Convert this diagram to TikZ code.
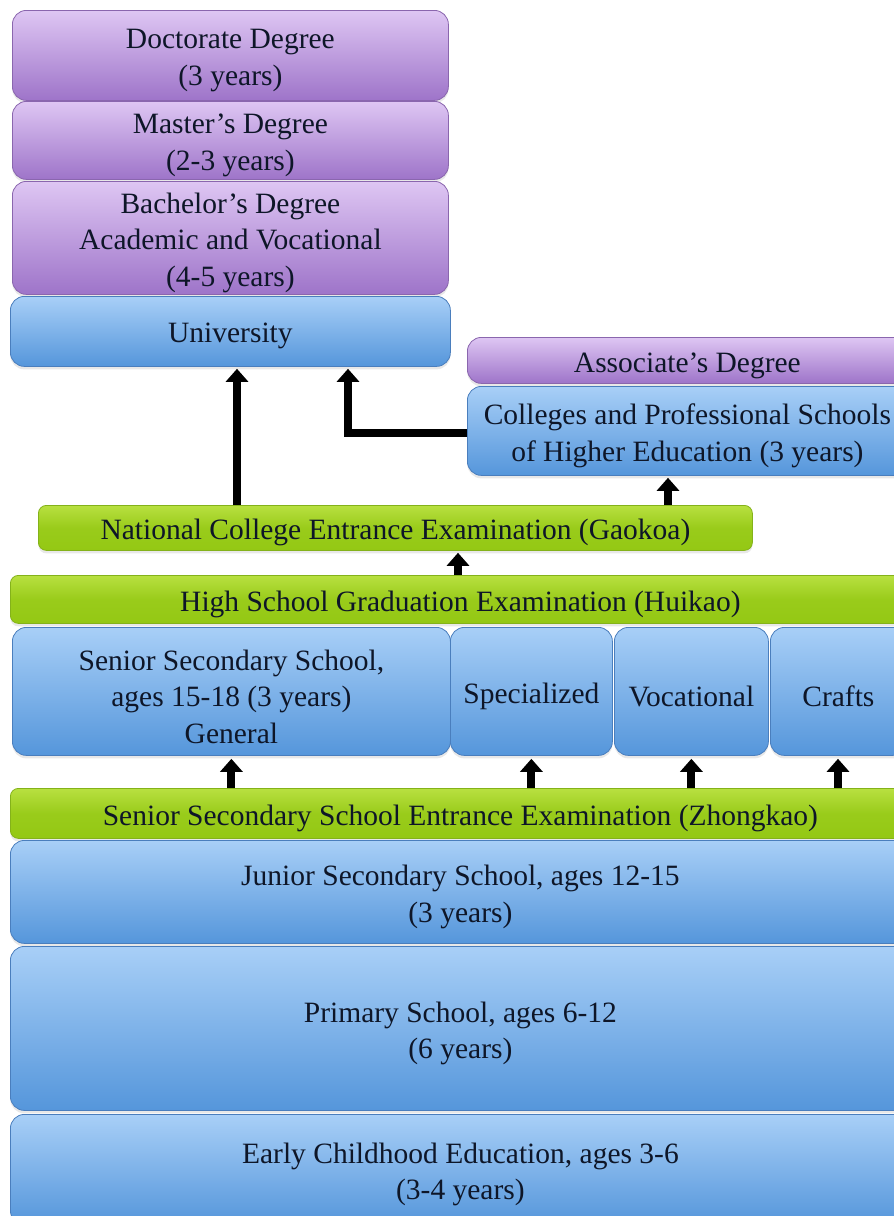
\documentclass[tikz,border=0pt]{standalone}
\usepackage{fontspec}
\setmainfont{Liberation Serif}
\usetikzlibrary{arrows.meta,shadows,calc}

\definecolor{txt}{HTML}{0E1628}
\definecolor{purpT}{HTML}{DEC6F3}
\definecolor{purpB}{HTML}{9E74C9}
\definecolor{purpD}{HTML}{8A66AE}
\definecolor{blueT}{HTML}{A8CFF7}
\definecolor{blueB}{HTML}{5596DB}
\definecolor{blueD}{HTML}{4A7EBD}
\definecolor{grnT}{HTML}{B8E040}
\definecolor{grnB}{HTML}{94C814}
\definecolor{grnD}{HTML}{84B21A}

\tikzset{
  lbl/.style={align=center, text=txt, inner sep=0pt, yshift=-5pt,
    font=\fontsize{29.5}{36.5}\selectfont},
  caption/.style={label={[lbl]center:{#1}}},
  box/.style={rounded corners=14pt, anchor=north west, inner sep=0pt,
    line width=0.8pt,
    drop shadow={shadow xshift=0pt, shadow yshift=-3pt, opacity=0.18}},
  degree/.style={box, draw=purpD, top color=purpT, bottom color=purpB},
  school/.style={box, draw=blueD, top color=blueT, bottom color=blueB},
  exam/.style={box, rounded corners=8pt, draw=grnD, top color=grnT, bottom color=grnB,
    middle color=grnB!85!grnT},
  uparrow/.style={line width=8pt, draw=black,
    -{Triangle[width=22pt,length=13pt]}},
}

\begin{document}
\begin{tikzpicture}[x=1pt,y=-1pt]
\useasboundingbox (0,0) rectangle (894,1216);
\clip (0,0) rectangle (894,1216);

% degrees above university
\node[degree, minimum width=436pt, minimum height=90pt,
  caption={Doctorate Degree\\(3 years)}] (doc) at (12,10) {};
\node[degree, minimum width=436pt, minimum height=78pt,
  caption={Master's Degree\\(2-3 years)}] (mas) at (12,101) {};
\node[degree, minimum width=436pt, minimum height=113pt,
  caption={Bachelor's Degree\\Academic and Vocational\\(4-5 years)}] (bac) at (12,181) {};
\node[school, minimum width=440pt, minimum height=70pt,
  caption={University}] (uni) at (10,296) {};

% colleges branch
\node[degree, minimum width=440pt, minimum height=46pt,
  caption={Associate's Degree}] (assoc) at (467,337) {};
\node[school, minimum width=440pt, minimum height=89pt,
  caption={Colleges and Professional Schools\\of Higher Education (3 years)}] (coll) at (467,386) {};

% examinations
\node[exam, minimum width=714pt, minimum height=45pt,
  caption={National College Entrance Examination (Gaokoa)}] (gaokao) at (38,505) {};
\node[exam, minimum width=900pt, minimum height=48pt,
  caption={High School Graduation Examination (Huikao)}] (huikao) at (10,575) {};

% senior secondary tracks
\node[school, minimum width=438pt, minimum height=128pt,
  caption={Senior Secondary School,\\ages 15-18 (3 years)\\General}] (gen) at (12,627) {};
\node[school, minimum width=162pt, minimum height=128pt,
  caption={Specialized}] (spec) at (450,627) {};
\node[school, minimum width=154pt, minimum height=128pt,
  caption={Vocational}] (voc) at (614,627) {};
\node[school, minimum width=136pt, minimum height=128pt,
  caption={Crafts}] (craft) at (770,627) {};

\node[exam, minimum width=900pt, minimum height=50pt,
  caption={Senior Secondary School Entrance Examination (Zhongkao)}] (zhong) at (10,788) {};

% compulsory and early education
\node[school, minimum width=900pt, minimum height=103pt,
  caption={Junior Secondary School, ages 12-15\\(3 years)}] (jun) at (10,840) {};
\node[school, minimum width=900pt, minimum height=164pt,
  caption={Primary School, ages 6-12\\(6 years)}] (pri) at (10,946) {};
\node[school, minimum width=900pt, minimum height=110pt,
  caption={Early Childhood Education, ages 3-6\\(3-4 years)}] (early) at (10,1114) {};

% progression arrows
\draw[uparrow] (237,0 |- gaokao.north) -- ([yshift=-2pt]237,0 |- uni.south);
\draw[uparrow] (coll.west |- 0,433) -- (348,433) -- ([yshift=-2pt]348,0 |- uni.south);
\draw[uparrow] (668,0 |- gaokao.north) -- ([yshift=-2pt]668,0 |- coll.south);
\draw[uparrow] (458,0 |- huikao.north) -- ([yshift=-2pt]458,0 |- gaokao.south);
\draw[uparrow] (gen.south |- zhong.north) -- ([yshift=-3pt]gen.south);
\draw[uparrow] (spec.south |- zhong.north) -- ([yshift=-3pt]spec.south);
\draw[uparrow] (voc.south |- zhong.north) -- ([yshift=-3pt]voc.south);
\draw[uparrow] (838,0 |- zhong.north) -- ([yshift=-3pt]838,0 |- craft.south);
\end{tikzpicture}
\end{document}
